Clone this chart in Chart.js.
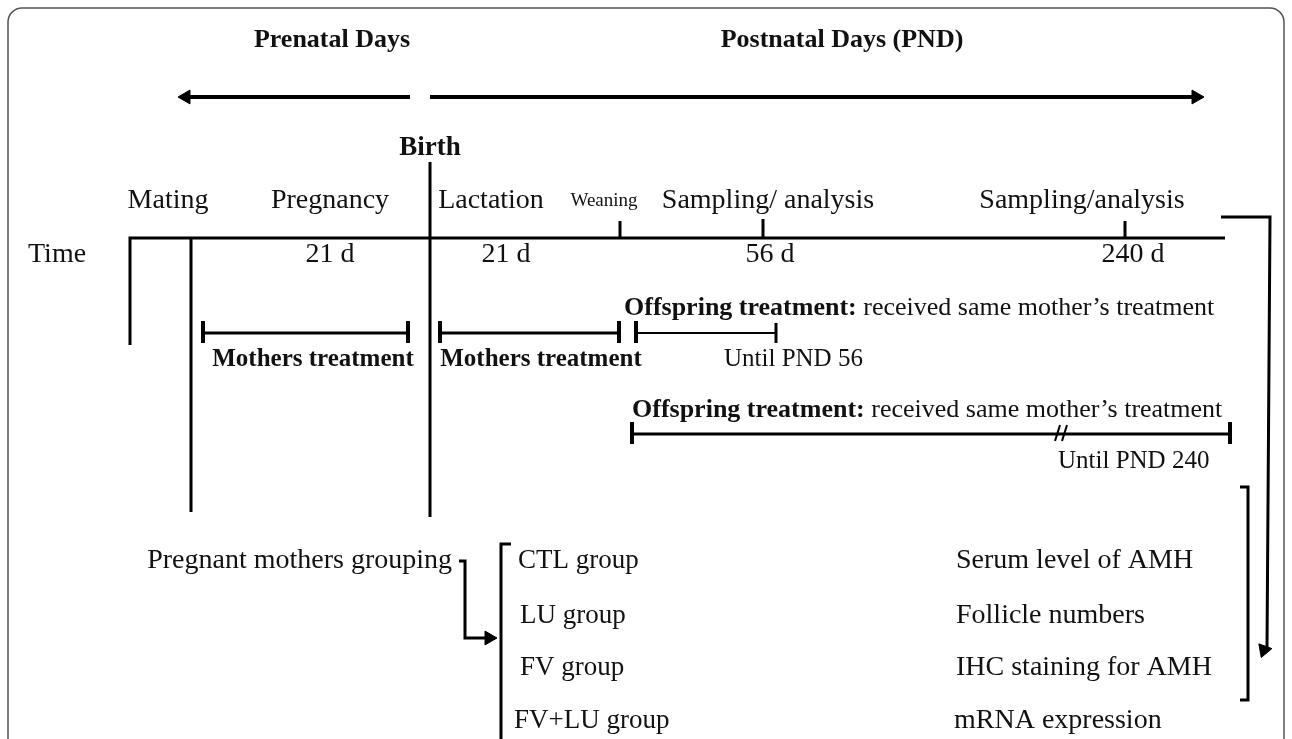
<!DOCTYPE html>
<html>
<head>
<meta charset="utf-8">
<script src="https://cdn.jsdelivr.net/npm/chart.js@4.4.0/dist/chart.umd.min.js"></script>
<style>html,body{margin:0;padding:0;background:#fff;}</style>
</head>
<body>
<canvas id="myChart" width="1292" height="739"></canvas>
<script>
/* Texts of the timeline */
var periodLabels = ["Prenatal Days", "Postnatal Days (PND)"];
var stageLabels = ["Mating", "Pregnancy", "Lactation", "Weaning", "Sampling/ analysis", "Sampling/analysis"];
var dayLabels = ["21 d", "21 d", "56 d", "240 d"];
var treatLabels = ["Mothers treatment", "Mothers treatment"];
var untilLabels = ["Until PND 56", "Until PND 240"];
var groupLabels = ["CTL group", "LU group", "FV group", "FV+LU group"];
var analysisLabels = ["Serum level of AMH", "Follicle numbers", "IHC staining for AMH", "mRNA expression"];

/* Where they sit (diagram units = pixels of the figure) */
var periodX = [332, 842];
var stageX = [168, 330, 491, 604, 768, 1082];
var dayX = [330, 506, 770, 1133];
var treatX = [313, 541];
var untilX = [724, 1058];
var untilY = [356, 458];
var groupX = [518, 520, 520, 514];
var rowY = [558, 613, 665, 718];
var analysisX = [956, 956, 956, 954];

/* Lines of the diagram: [points], width */
var lines = [
  [[[188, 97], [410, 97]], 4],
  [[[430, 97], [1193, 97]], 4],
  [[[430, 162], [430, 517]], 3],
  [[[130, 345], [130, 238], [1225, 238]], 3],
  [[[191, 238], [191, 512]], 3],
  [[[620, 221], [620, 238]], 3],
  [[[763, 219], [763, 238]], 3],
  [[[1125, 221], [1125, 238]], 3],
  [[[205, 333], [408, 333]], 3],
  [[[203, 321], [203, 343]], 4],
  [[[408, 321], [408, 343]], 4],
  [[[442, 333], [619, 333]], 3],
  [[[440, 321], [440, 343]], 4],
  [[[619, 321], [619, 343]], 4],
  [[[636, 321], [636, 343]], 4],
  [[[636, 333], [776, 333]], 2],
  [[[776, 323], [776, 343]], 3],
  [[[634, 434], [1229, 434]], 3],
  [[[632, 422], [632, 444]], 4],
  [[[1230, 422], [1230, 444]], 4],
  [[[1055, 441], [1060, 425]], 2],
  [[[1062, 441], [1067, 425]], 2],
  [[[1221, 217], [1270, 217], [1267, 648]], 3],
  [[[1240, 487], [1248, 487], [1248, 700], [1240, 700]], 3],
  [[[459, 561], [465, 561], [465, 638], [486, 638]], 3],
  [[[511, 544], [501, 544], [501, 745]], 3]
];
/* Arrow heads: x, y, rotation */
var heads = [[186, 97, -90], [1196, 97, 90], [1264, 650, 200], [489, 638, 90]];

var datasets = lines.map(function (l) {
  return {
    data: l[0].map(function (p) { return {x: p[0], y: p[1]}; }),
    showLine: true, fill: false, borderColor: '#000', borderWidth: l[1],
    pointRadius: 0, borderJoinStyle: 'miter'
  };
});
datasets.push({
  data: heads.map(function (h) { return {x: h[0], y: h[1]}; }),
  showLine: false, pointStyle: 'triangle', pointRadius: 8,
  rotation: heads.map(function (h) { return h[2]; }),
  backgroundColor: '#000', borderColor: '#000', borderWidth: 1
});

var SERIF = '"Liberation Serif", "Times New Roman", serif';

var textPlugin = {
  id: 'texts',
  beforeDraw: function (chart) {
    var ctx = chart.ctx, sx = chart.scales.x, sy = chart.scales.y;
    ctx.save();
    ctx.strokeStyle = '#555';
    ctx.lineWidth = 1.5;
    ctx.beginPath();
    ctx.roundRect(sx.getPixelForValue(8), sy.getPixelForValue(8), sx.getPixelForValue(1284) - sx.getPixelForValue(8), 780, 14);
    ctx.stroke();
    ctx.restore();
  },
  afterDatasetsDraw: function (chart) {
    var ctx = chart.ctx, sx = chart.scales.x, sy = chart.scales.y;
    // y is the visual middle of the capitals
    function t(s, x, y, font, align) {
      ctx.font = font;
      ctx.textAlign = align || 'center';
      ctx.textBaseline = 'middle';
      ctx.fillStyle = '#111';
      ctx.fillText(s, sx.getPixelForValue(x), sy.getPixelForValue(y) + 3);
    }
    function mixed(bold, rest, x, y, size) {
      ctx.font = 'bold ' + size + 'px ' + SERIF;
      var w = ctx.measureText(bold).width;
      t(bold, x, y, 'bold ' + size + 'px ' + SERIF, 'left');
      t(rest, x + w, y, size + 'px ' + SERIF, 'left');
    }
    ctx.save();
    periodLabels.forEach(function (s, i) { t(s, periodX[i], 37, 'bold 26px ' + SERIF); });
    t('Birth', 430, 145, 'bold 27px ' + SERIF);
    stageLabels.forEach(function (s, i) {
      t(s, stageX[i], 198, (s === 'Weaning' ? '19px ' : '28px ') + SERIF);
    });
    t('Time', 28, 252, '28px ' + SERIF, 'left');
    dayLabels.forEach(function (s, i) { t(s, dayX[i], 252, '28px ' + SERIF); });
    treatLabels.forEach(function (s, i) { t(s, treatX[i], 357, 'bold 25px ' + SERIF); });
    mixed('Offspring treatment:', ' received same mother\u2019s treatment', 624, 305, 26);
    mixed('Offspring treatment:', ' received same mother\u2019s treatment', 632, 407, 26);
    untilLabels.forEach(function (s, i) { t(s, untilX[i], untilY[i], '25px ' + SERIF, 'left'); });
    t('Pregnant mothers grouping', 452, 558, '28px ' + SERIF, 'right');
    groupLabels.forEach(function (s, i) { t(s, groupX[i], rowY[i], '27px ' + SERIF, 'left'); });
    analysisLabels.forEach(function (s, i) { t(s, analysisX[i], rowY[i], '28px ' + SERIF, 'left'); });
    ctx.restore();
  }
};

var ctx = document.getElementById('myChart').getContext('2d');
var chart = new Chart(ctx, {
  type: 'scatter',
  data: {datasets: datasets},
  options: {
    responsive: false,
    animation: false,
    layout: {padding: 0, autoPadding: false},
    plugins: {legend: {display: false}, tooltip: {enabled: false}},
    scales: {
      x: {type: 'linear', min: 0, max: 1292, display: false},
      y: {type: 'linear', min: 0, max: 739, reverse: true, display: false}
    }
  },
  plugins: [textPlugin]
});
</script>
</body>
</html>
